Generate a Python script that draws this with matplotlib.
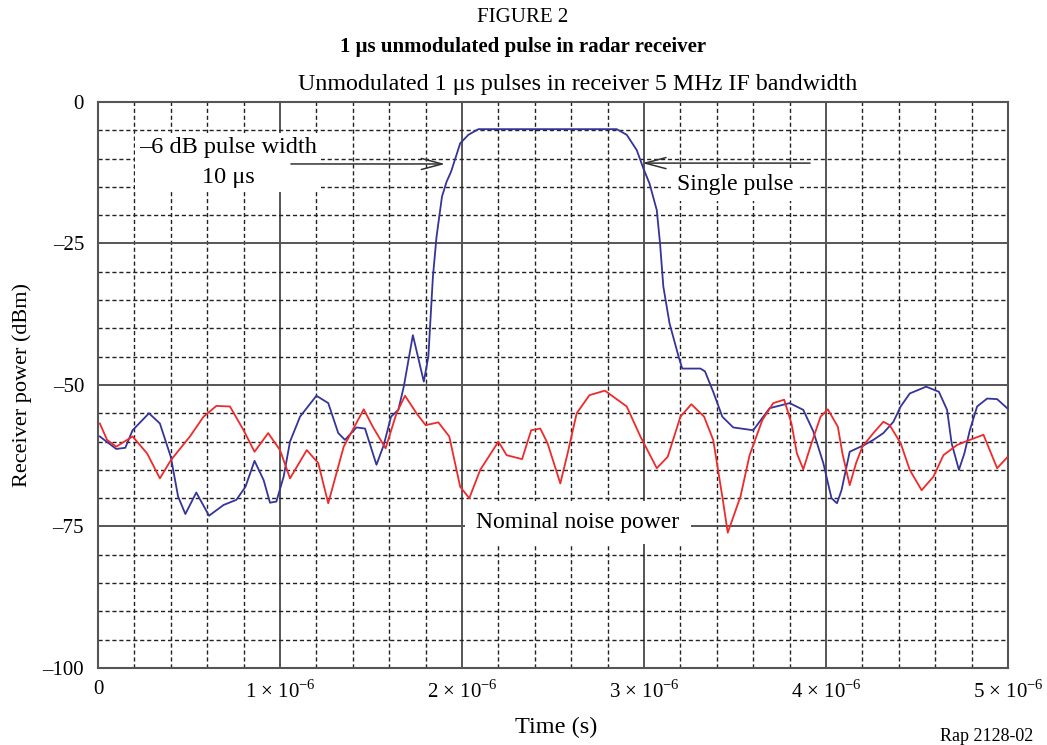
import matplotlib.pyplot as plt
from matplotlib.ticker import MultipleLocator, FuncFormatter

plt.rcParams['font.family'] = ['Liberation Serif', 'DejaVu Serif']
plt.rcParams['mathtext.fontset'] = 'custom'
plt.rcParams['mathtext.rm'] = 'Liberation Serif'

# time in microseconds, power in dBm
pulse_t = [0.01, 0.10, 0.15, 0.19, 0.28, 0.34, 0.40, 0.44, 0.48, 0.54, 0.61, 0.69,
           0.76, 0.81, 0.86, 0.91, 0.945, 0.98, 1.02, 1.055, 1.11, 1.20, 1.265, 1.32,
           1.357, 1.42, 1.467, 1.53, 1.57, 1.61, 1.65, 1.68, 1.73, 1.79, 1.815, 1.84,
           1.86, 1.89, 1.915, 1.94, 1.99, 2.035, 2.09, 2.85, 2.905, 2.96, 2.996, 3.03,
           3.07, 3.088, 3.106, 3.14, 3.19, 3.21, 3.31, 3.335, 3.38, 3.43, 3.49, 3.60,
           3.69, 3.80, 3.875, 3.93, 3.985, 4.03, 4.06, 4.085, 4.13, 4.21, 4.26, 4.315,
           4.37, 4.41, 4.46, 4.55, 4.62, 4.665, 4.69, 4.73, 4.76, 4.79, 4.83, 4.885,
           4.94, 4.995]
pulse_db = [-59.1, -61.3, -61.1, -58.0, -55.0, -56.8, -62.7, -69.7, -72.8, -69.0, -73.1, -71.2,
            -70.3, -68.0, -63.4, -66.8, -70.8, -70.6, -66.2, -60.0, -55.6, -51.9, -53.2, -58.5,
            -59.7, -57.5, -57.7, -64.1, -60.6, -55.6, -54.4, -50.3, -41.2, -49.4, -45.0, -30.9,
            -23.8, -16.7, -14.1, -12.3, -7.3, -5.8, -4.8, -4.8, -5.8, -8.5, -11.7, -14.4,
            -19.1, -25.0, -32.6, -39.1, -45.0, -47.1, -47.1, -47.6, -51.2, -55.6, -57.5, -58.0,
            -54.1, -53.2, -54.4, -58.2, -63.8, -70.0, -70.9, -68.6, -61.8, -60.6, -59.7, -58.5,
            -56.5, -53.8, -51.5, -50.3, -51.2, -54.4, -60.3, -65.0, -62.1, -58.0, -53.8, -52.4,
            -52.5, -54.1]

noise_t = [0.01, 0.05, 0.10, 0.19, 0.27, 0.34, 0.40, 0.505, 0.58, 0.65, 0.725, 0.80,
           0.86, 0.935, 1.00, 1.055, 1.147, 1.21, 1.265, 1.35, 1.46, 1.51, 1.58, 1.64,
           1.687, 1.75, 1.80, 1.87, 1.93, 1.99, 2.04, 2.10, 2.20, 2.245, 2.33, 2.38,
           2.43, 2.47, 2.54, 2.58, 2.63, 2.70, 2.785, 2.905, 2.98, 3.07, 3.13, 3.20,
           3.26, 3.33, 3.38, 3.43, 3.46, 3.53, 3.58, 3.65, 3.71, 3.77, 3.81, 3.84,
           3.875, 3.92, 3.97, 4.01, 4.065, 4.09, 4.13, 4.165, 4.20, 4.26, 4.315, 4.35,
           4.41, 4.46, 4.525, 4.59, 4.645, 4.72, 4.79, 4.865, 4.94, 4.995]
noise_db = [-56.8, -59.7, -60.9, -59.1, -62.1, -66.5, -63.3, -59.1, -55.6, -53.7, -53.8, -58.0,
            -61.8, -58.5, -61.5, -66.5, -61.5, -63.8, -70.9, -60.9, -54.3, -57.4, -61.2, -55.0,
            -51.9, -55.0, -57.1, -56.6, -59.1, -68.0, -70.0, -65.0, -60.0, -62.4, -63.1, -58.0,
            -57.7, -60.3, -67.4, -62.1, -55.0, -51.8, -51.0, -53.8, -59.1, -64.7, -62.7, -55.6,
            -53.4, -55.6, -59.7, -69.7, -76.1, -69.7, -62.4, -56.2, -53.2, -52.6, -56.8, -62.1,
            -64.9, -60.3, -55.6, -54.3, -57.4, -62.1, -67.7, -63.8, -60.9, -58.5, -56.5, -57.1,
            -60.3, -65.0, -68.6, -66.2, -62.4, -60.6, -59.7, -58.8, -64.7, -62.8]

x_major = [0, 1, 2, 3, 4, 5]
y_major = [0, -25, -50, -75, -100]

fig = plt.figure(figsize=(10.47, 7.45), dpi=100)
ax = fig.add_axes([0.0936, 0.1034, 0.8692, 0.7597])

us = 1e-6
ax.plot([t * us for t in pulse_t], pulse_db, color='#34349a', lw=1.3, zorder=5)
ax.plot([t * us for t in noise_t], noise_db, color='#ee2a2a', lw=1.3, zorder=5)

ax.set_xlim(0, 5 * us)
ax.set_ylim(-100, 0)
ax.set_xticks([v * us for v in x_major])
ax.set_yticks(y_major)
ax.xaxis.set_minor_locator(MultipleLocator(0.2 * us))
ax.yaxis.set_minor_locator(MultipleLocator(5))

def time_label(v, pos):
    n = int(round(v / us))
    if n == 0:
        return '0'
    return f'{n} × 10$^{{-6}}$'

def power_label(v, pos):
    n = int(round(v))
    return '0' if n == 0 else f'–{abs(n)}'

ax.xaxis.set_major_formatter(FuncFormatter(time_label))
ax.yaxis.set_major_formatter(FuncFormatter(power_label))
ax.tick_params(which='both', length=0, labelsize=15)
ax.tick_params(axis='x', pad=9)
ax.tick_params(axis='y', pad=10)

ax.set_axisbelow(True)
ax.grid(which='major', color='#555555', lw=1.4, ls='-')
ax.grid(which='minor', color='#222222', lw=1.0, ls=(0, (3, 2)))
for sp in ax.spines.values():
    sp.set_color('#555555')
    sp.set_linewidth(1.5)

ax.text(0.716 * us, -10.7, '–6 dB pulse width\n10 μs', ha='center', va='center',
        fontsize=17.5, linespacing=1.6, bbox=dict(facecolor='white', edgecolor='none', pad=3),
        zorder=3)
ax.text(3.5 * us, -14.6, 'Single pulse', ha='center', va='center', fontsize=17,
        bbox=dict(facecolor='white', edgecolor='none', pad=4), zorder=3)
ax.text(2.637 * us, -74.3, 'Nominal noise power', ha='center', va='center', fontsize=17,
        bbox=dict(facecolor='white', edgecolor='none', pad=8), zorder=3)

arrow = dict(arrowstyle='->,head_length=1.5,head_width=0.4', color='#333333', lw=1.1,
             shrinkA=0, shrinkB=0)
ax.annotate('', xy=(1.907 * us, -10.95), xytext=(1.06 * us, -10.95),
            arrowprops=arrow, zorder=4)
ax.annotate('', xy=(2.99 * us, -10.8), xytext=(3.912 * us, -10.8),
            arrowprops=arrow, zorder=4)

fig.text(0.4995, 0.976, 'FIGURE 2', ha='center', va='center', fontsize=15)
fig.text(0.4995, 0.937, '1 μs unmodulated pulse in radar receiver', ha='center',
         va='center', fontsize=15, fontweight='bold')
fig.text(0.552, 0.887, 'Unmodulated 1 μs pulses in receiver 5 MHz IF bandwidth',
         ha='center', va='center', fontsize=17.3)
fig.text(0.021, 0.483, 'Receiver power (dBm)', rotation=90, ha='center', va='center',
         fontsize=16)
fig.text(0.531, 0.024, 'Time (s)', ha='center', va='center', fontsize=17.5)
fig.text(0.987, 0.011, 'Rap 2128-02', ha='right', va='center', fontsize=13)

fig.savefig('out.png', dpi=100)
